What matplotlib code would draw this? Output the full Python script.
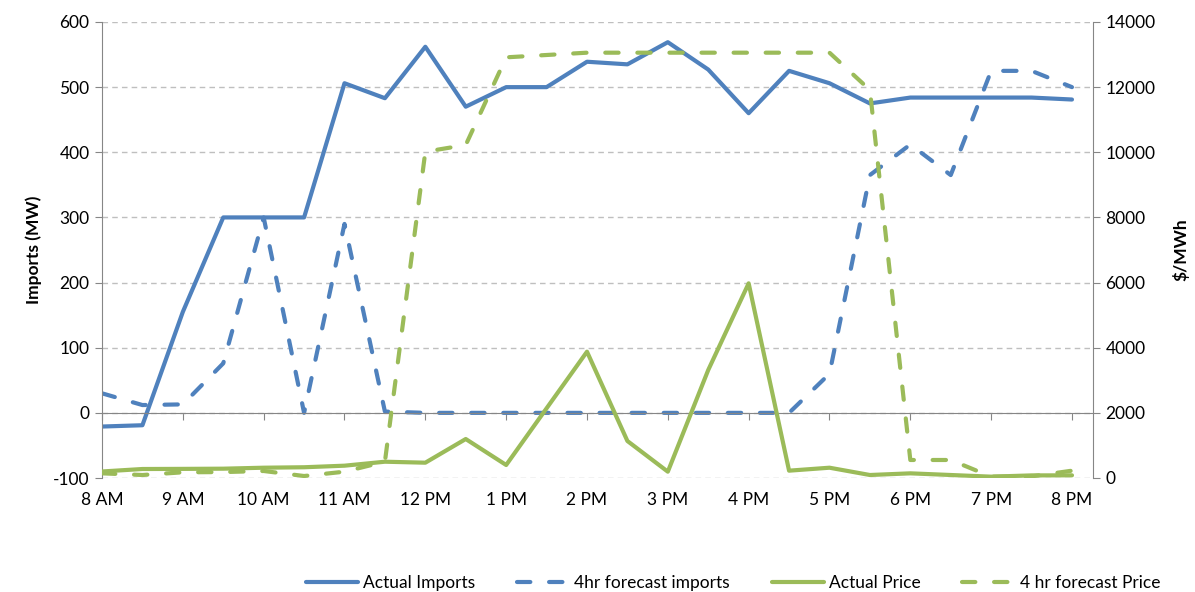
import numpy as np
import matplotlib
matplotlib.use("Agg")
from matplotlib import pyplot as plt
from matplotlib.lines import Line2D

plt.rcParams['font.family'] = ['Lato', 'DejaVu Sans']
plt.rcParams['axes.unicode_minus'] = False

# half-hourly readings, 8 AM to 8 PM
hours = np.arange(25) * 0.5
hour_labels = ['8 AM', '9 AM', '10 AM', '11 AM', '12 PM', '1 PM', '2 PM',
               '3 PM', '4 PM', '5 PM', '6 PM', '7 PM', '8 PM']

actual_imports = [-21, -19, 155, 300, 300, 300, 506, 483, 562, 470, 500, 500,
                  539, 535, 569, 527, 460, 525, 506, 475, 484, 484, 484, 484, 481]
forecast_imports = [30, 12, 13, 76, 300, 0, 290, 2, 0, 0, 0, 0,
                    0, 0, 0, 0, 0, 0, 60, 365, 412, 365, 525, 525, 500]
actual_price = [200, 276, 280, 286, 316, 330, 378, 500, 470, 1197, 399, 2140,
                3878, 1136, 194, 3316, 5977, 225, 316, 92, 143, 92, 41, 80, 82]
forecast_price = [143, 92, 175, 182, 215, 61, 194, 500, 10018, 10224, 12915, 12987,
                  13058, 13058, 13058, 13058, 13058, 13058, 13058, 11912, 553, 553, 41, 50, 225]

blue = '#4F81BD'
green = '#9BBB59'
axis_grey = '#868686'
grid_grey = '#BFBFBF'

fig = plt.figure(figsize=(11.95, 5.92), dpi=100)
ax = fig.add_axes([102 / 1195, 1 - 478 / 592, (1093 - 102) / 1195, (478 - 22) / 592])
ax2 = ax.twinx()

line_kw = dict(lw=3.0, solid_joinstyle='round', solid_capstyle='round',
               dash_joinstyle='round', dash_capstyle='round')
dash = (3.2, 4.5)

ax.plot(hours, actual_imports, color=blue, **line_kw)
ax.plot(hours, forecast_imports, color=blue, dashes=dash, **line_kw)
ax2.plot(hours, actual_price, color=green, **line_kw)
ax2.plot(hours, forecast_price, color=green, dashes=dash, **line_kw)

ax.set_xlim(0, 12.26)
ax.set_ylim(-100, 600)
ax.set_yticks(np.arange(-100, 601, 100))
ax2.set_ylim(0, 14000)
ax2.set_yticks(np.arange(0, 14001, 2000))

ax.yaxis.grid(True, color=grid_grey, lw=1.0, linestyle=(0, (4, 3)))
ax.set_axisbelow(True)

ax.spines['top'].set_visible(False)
ax2.spines['top'].set_visible(False)
ax2.spines['left'].set_visible(False)
ax2.spines['bottom'].set_visible(False)
ax.spines['right'].set_visible(False)
ax.spines['left'].set_color(axis_grey)
ax2.spines['right'].set_color(axis_grey)

# category axis crosses the value axis at zero
ax.spines['bottom'].set_position(('data', 0))
ax.spines['bottom'].set_color(axis_grey)
ax.set_xticks(np.arange(13))
ax.tick_params(axis='x', length=5, color=axis_grey, labelbottom=False)

secx = ax.secondary_xaxis(0)
secx.set_xticks(np.arange(13))
secx.set_xticklabels(hour_labels)
secx.spines['bottom'].set_visible(False)
secx.tick_params(axis='x', length=0, pad=10, labelsize=12.5)

ax.tick_params(axis='y', length=5, color=axis_grey, labelsize=12.5, pad=4)
ax2.tick_params(axis='y', length=5, color=axis_grey, labelsize=12.5, pad=4)

ax.set_ylabel('Imports (MW)', fontsize=12.5, fontweight='bold', labelpad=8)
ax2.set_ylabel('$/MWh', fontsize=12.5, fontweight='bold', labelpad=12)

handles = [
    Line2D([], [], color=blue, **line_kw),
    Line2D([], [], color=blue, dashes=dash, **line_kw),
    Line2D([], [], color=green, **line_kw),
    Line2D([], [], color=green, dashes=dash, **line_kw),
]
labels = ['Actual Imports', '4hr forecast imports', 'Actual Price', '4 hr forecast Price']
fig.legend(handles, labels, loc='center', bbox_to_anchor=(733 / 1195, 1 - 583 / 592),
           ncol=4, frameon=False, fontsize=12.5, handlelength=3.0,
           handletextpad=0.3, columnspacing=2.4)

fig.savefig('out.png', dpi=100)
